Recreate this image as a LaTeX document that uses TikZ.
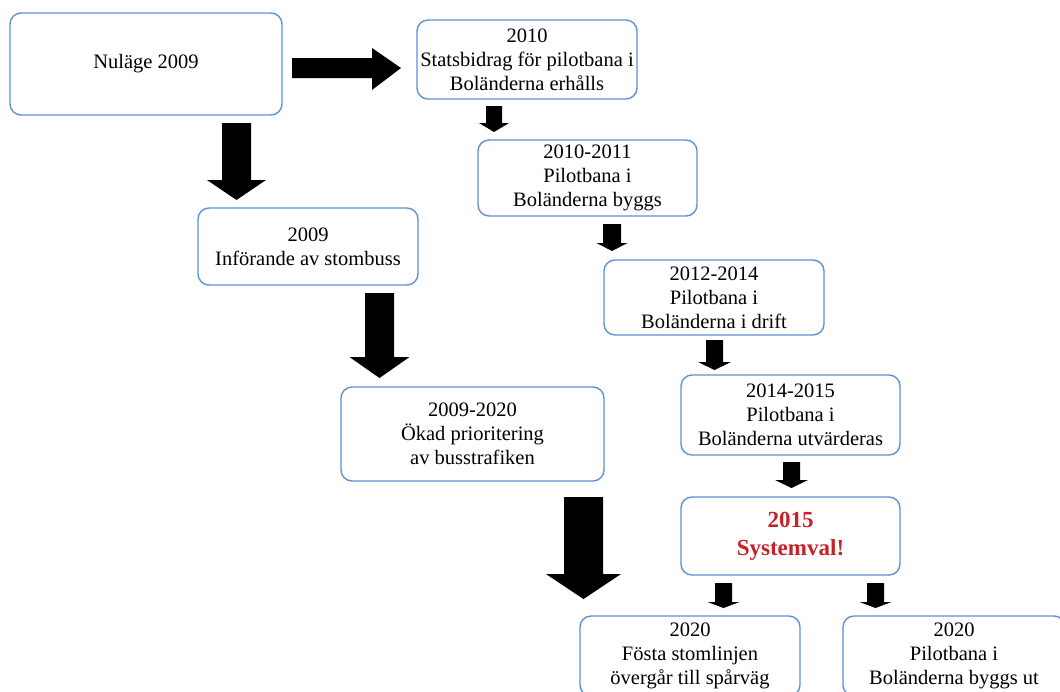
\documentclass[tikz,border=0pt]{standalone}
\usepackage{fontspec}
\setmainfont{Liberation Serif}
\definecolor{boxblue}{RGB}{95,145,215}
\definecolor{sysred}{RGB}{200,32,40}
% cx, top, head start, tip, shaft half width, head half width
\newcommand\blkdown[6]{%
  \fill[black] (#1-#5,#2) -- (#1+#5,#2) -- (#1+#5,#3) -- (#1+#6,#3) -- (#1,#4)
    -- (#1-#6,#3) -- (#1-#5,#3) -- cycle;}
\tikzset{
  tbox/.style={draw=boxblue, line width=1.4pt, rounded corners=11pt, fill=white,
    align=center, inner sep=0pt, font=\fontsize{20.5}{24}\selectfont},
}
\begin{document}
\begin{tikzpicture}[x=1pt,y=-1pt]
\useasboundingbox (0,0) rectangle (1060,691);
\clip (0,0) rectangle (1060,691);
\fill[white] (0,0) rectangle (1060,691);

% boxes
\node[tbox, minimum width=272pt, minimum height=102pt] (A) at (146,64) {Nuläge 2009};
\node[tbox, minimum width=220pt, minimum height=79pt] (B) at (527,59.5)
  {2010\\Statsbidrag för pilotbana i\\Boländerna erhålls};
\node[tbox, minimum width=219pt, minimum height=76pt] (C) at (587.5,178)
  {2010-2011\\Pilotbana i\\Boländerna byggs};
\node[tbox, minimum width=220pt, minimum height=75pt] (D) at (714,297.5)
  {2012-2014\\Pilotbana i\\Boländerna i drift};
\node[tbox, minimum width=219pt, minimum height=80pt] (E) at (790.5,415)
  {2014-2015\\Pilotbana i\\Boländerna utvärderas};
\node[tbox, minimum width=219pt, minimum height=78pt,
  font=\fontsize{23}{28}\selectfont\bfseries, text=sysred] (F) at (790.5,536)
  {2015\\Systemval!};
\node[tbox, minimum width=220pt, minimum height=80pt] (G) at (690,656)
  {2020\\Fösta stomlinjen\\övergår till spårväg};
\node[tbox, minimum width=222pt, minimum height=80pt] (H) at (954,656)
  {2020\\Pilotbana i\\Boländerna byggs ut};
\node[tbox, minimum width=220pt, minimum height=77pt] (I) at (308,246.5)
  {2009\\Införande av stombuss};
\node[tbox, minimum width=263pt, minimum height=94pt] (J) at (472.5,434)
  {2009-2020\\Ökad prioritering\\av busstrafiken};

% right block arrow A -> B
\fill[black] (292,58) -- (372,58) -- (372,48) -- (401,68) -- (372,90) -- (372,78)
  -- (292,78) -- cycle;

% down block arrows
\blkdown{236.5}{123}{180}{200}{14.5}{29.5}
\blkdown{379.5}{293}{357}{378}{14.5}{30}
\blkdown{583.5}{497}{574}{599}{19.5}{37.5}
\blkdown{494}{106}{123}{132}{8}{15}
\blkdown{612}{224}{243}{251}{9}{15.5}
\blkdown{714.5}{340}{362}{370}{8.5}{16.5}
\blkdown{791.5}{462}{480}{488}{8.5}{16.5}
\blkdown{723.5}{583}{602}{608}{8.5}{16}
\blkdown{875.5}{583}{602}{608}{8.5}{16}
\end{tikzpicture}
\end{document}
